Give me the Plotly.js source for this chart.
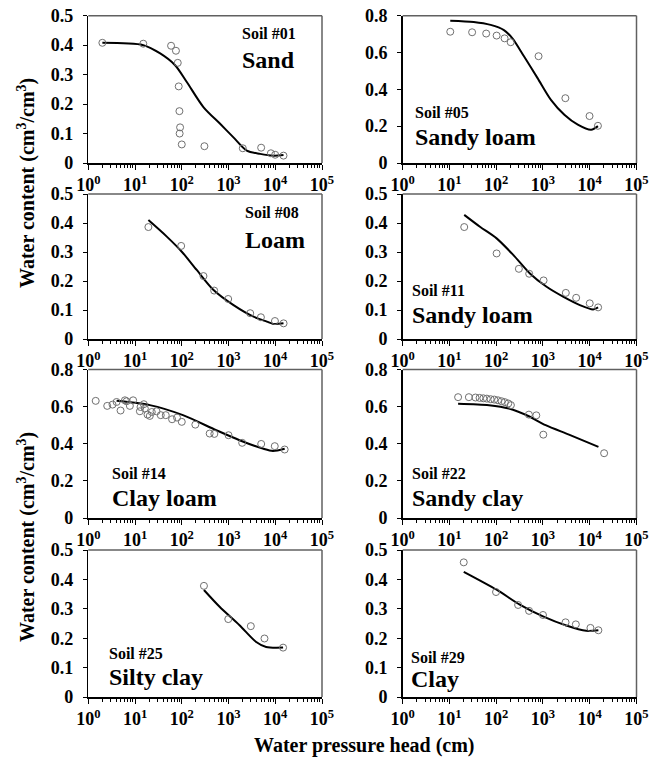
<!DOCTYPE html>
<html>
<head>
<meta charset="utf-8">
<script src="https://cdn.plot.ly/plotly-3.0.1.min.js"></script>
<style>html,body{margin:0;padding:0;background:#fff;}#chart{width:654px;height:762px;}</style>
</head>
<body>
<div id="chart"></div>
<script>
// ---------------- DATA ----------------
const soilIds  = ['Soil #01', 'Soil #05', 'Soil #08', 'Soil #11', 'Soil #14', 'Soil #22', 'Soil #25', 'Soil #29'];
const textures = ['Sand', 'Sandy loam', 'Loam', 'Sandy loam', 'Clay loam', 'Sandy clay', 'Silty clay', 'Clay'];
const yMax     = [0.5, 0.8, 0.5, 0.5, 0.8, 0.8, 0.5, 0.5];
const xTickVals  = [1, 10, 100, 1000, 10000, 100000];
const xTickText  = ['10<sup>0</sup>', '10<sup>1</sup>', '10<sup>2</sup>', '10<sup>3</sup>', '10<sup>4</sup>', '10<sup>5</sup>'];

// Soil #01 Sand
const obsH01 = [2, 15, 59, 75, 82, 86, 89, 92, 90, 100, 305, 2020, 4990, 8050, 9950, 15000];
const obsT01 = [0.408, 0.405, 0.398, 0.381, 0.340, 0.260, 0.176, 0.121, 0.100, 0.063, 0.057, 0.050, 0.052, 0.033, 0.028, 0.025];
const fitH01 = [2, 15, 34.5, 72, 128, 290, 661, 1275, 2460, 4750, 9200, 15000];
const fitT01 = [0.408, 0.400, 0.372, 0.332, 0.275, 0.190, 0.133, 0.087, 0.042, 0.031, 0.025, 0.027];
// Soil #05 Sandy loam
const obsH05 = [10.4, 30.5, 61, 102, 151, 204, 804, 3010, 9900, 14970];
const obsT05 = [0.713, 0.710, 0.703, 0.692, 0.677, 0.656, 0.580, 0.352, 0.255, 0.202];
const fitH05 = [10.4, 33, 76, 146, 222, 395, 766, 1480, 2865, 5550, 10700, 14970];
const fitT05 = [0.773, 0.766, 0.750, 0.722, 0.677, 0.578, 0.461, 0.343, 0.262, 0.208, 0.180, 0.200];
// Soil #08 Loam
const obsH08 = [19.3, 97, 291, 493, 984, 2910, 4930, 9850, 15070];
const obsT08 = [0.386, 0.321, 0.217, 0.167, 0.138, 0.089, 0.075, 0.062, 0.054];
const fitH08 = [19.3, 47.8, 100, 209, 478, 1280, 3435, 6600, 9100, 15000];
const fitT08 = [0.410, 0.353, 0.301, 0.238, 0.169, 0.117, 0.077, 0.060, 0.052, 0.054];
// Soil #11 Sandy loam
const obsH11 = [20.7, 102, 305, 507, 1030, 3080, 5120, 10000, 15100];
const obsT11 = [0.386, 0.295, 0.242, 0.225, 0.202, 0.159, 0.142, 0.123, 0.109];
const fitH11 = [20.7, 44.9, 102, 231, 525, 1194, 2690, 6150, 11830, 15100];
const fitT11 = [0.428, 0.387, 0.347, 0.290, 0.226, 0.180, 0.146, 0.117, 0.102, 0.109];
// Soil #14 Clay loam
const obsH14 = [1.44, 2.54, 3.3, 4.03, 4.9, 6.07, 6.6, 7.75, 9.1, 12.7, 13.1, 15.4, 16.2, 18.5, 20.7, 22.8, 28.8, 35.5, 45.4, 62, 79, 100, 195, 395, 497, 1000, 1960, 5000, 9750, 15900];
const obsT14 = [0.631, 0.604, 0.611, 0.625, 0.579, 0.634, 0.629, 0.604, 0.634, 0.575, 0.598, 0.613, 0.590, 0.557, 0.550, 0.571, 0.575, 0.554, 0.554, 0.532, 0.541, 0.518, 0.503, 0.455, 0.453, 0.446, 0.405, 0.399, 0.387, 0.369];
const fitH14 = [4.03, 20.7, 106, 547, 1720, 5410, 8900, 15900];
const fitT14 = [0.631, 0.608, 0.554, 0.473, 0.419, 0.374, 0.361, 0.373];
// Soil #22 Sandy clay
const obsH22 = [15.3, 26, 36, 44, 53, 63, 76, 91, 109, 130, 153, 181, 206, 500, 720, 1016, 20300];
const obsT22 = [0.651, 0.651, 0.649, 0.647, 0.645, 0.643, 0.640, 0.638, 0.634, 0.629, 0.624, 0.617, 0.608, 0.557, 0.553, 0.449, 0.349];
const fitH22 = [15.3, 70, 187, 500, 1140, 3600, 15350];
const fitT22 = [0.616, 0.608, 0.590, 0.548, 0.500, 0.449, 0.383];
// Soil #25 Silty clay
const obsH25 = [298, 988, 3000, 5880, 14700];
const obsT25 = [0.378, 0.265, 0.241, 0.199, 0.168];
const fitH25 = [298, 644, 1720, 3910, 6380, 14700];
const fitT25 = [0.364, 0.307, 0.244, 0.187, 0.170, 0.168];
// Soil #29 Clay
const obsH29 = [20.2, 99, 294, 504, 1000, 3040, 5040, 10350, 15300];
const obsT29 = [0.458, 0.357, 0.313, 0.293, 0.279, 0.254, 0.247, 0.235, 0.227];
const fitH29 = [20.2, 102, 319, 1000, 3150, 8380, 15300];
const fitT29 = [0.426, 0.365, 0.314, 0.274, 0.243, 0.225, 0.227];

const obsH = [obsH01, obsH05, obsH08, obsH11, obsH14, obsH22, obsH25, obsH29];
const obsT = [obsT01, obsT05, obsT08, obsT11, obsT14, obsT22, obsT25, obsT29];
const fitH = [fitH01, fitH05, fitH08, fitH11, fitH14, fitH22, fitH25, fitH29];
const fitT = [fitT01, fitT05, fitT08, fitT11, fitT14, fitT22, fitT25, fitT29];

// ---------------- LAYOUT ----------------
const W = 654, H = 762;
const px = v => v / W;
const py = v => 1 - v / H;
const colX = [[88.3, 322], [402.7, 636.5]];
const rowY = [[15.7, 163], [194, 339], [369.5, 518], [550, 697]];
// label positions: [left x, small-label centre y, big-label centre y]
const labelPos = [[240, 33, 60], [413, 112, 136.5], [243, 213, 240], [410, 290, 314.5],
                  [110, 473, 497.5], [410, 473, 497.5], [107, 653, 677], [409, 657, 679]];

const serif = 'Liberation Serif';
const tickFont = {family: serif, size: 18, color: '#000', weight: 'bold'};

const minorVals = [];
for (let e = 0; e < 5; e++) for (let d = 2; d <= 9; d++) minorVals.push(d * Math.pow(10, e));

const traces = [];
const layout = {
  width: W, height: H,
  margin: {l: 0, r: 0, t: 0, b: 0},
  paper_bgcolor: '#fff', plot_bgcolor: '#fff',
  font: {family: serif, color: '#000'},
  showlegend: false,
  annotations: [], shapes: []
};

for (let i = 0; i < 8; i++) {
  const n = i + 1;
  const xa = n === 1 ? 'x' : 'x' + n;
  const ya = n === 1 ? 'y' : 'y' + n;
  const col = i % 2, row = Math.floor(i / 2);
  traces.push({
    type: 'scatter', mode: 'lines', x: fitH[i], y: fitT[i], xaxis: xa, yaxis: ya,
    line: {color: '#000', width: 2, shape: 'spline', smoothing: 0.8}, hoverinfo: 'skip'
  });
  traces.push({
    type: 'scatter', mode: 'markers', x: obsH[i], y: obsT[i], xaxis: xa, yaxis: ya,
    marker: {symbol: 'circle-open', size: 7, color: '#707070', line: {width: 1, color: '#707070'}}
  });
  const xKey = n === 1 ? 'xaxis' : 'xaxis' + n;
  const yKey = n === 1 ? 'yaxis' : 'yaxis' + n;
  layout[xKey] = {
    type: 'log', range: [0, 5], domain: [px(colX[col][0]), px(colX[col][1])], anchor: ya,
    tickmode: 'array', tickvals: xTickVals, ticktext: xTickText,
    ticks: 'outside', ticklen: 5, tickwidth: 1, tickcolor: '#000',
    minor: {tickmode: 'array', tickvals: minorVals, ticks: 'outside', ticklen: 3, tickwidth: 1, tickcolor: '#000', showgrid: false},
    showline: true, linecolor: '#000', linewidth: 1.5, showgrid: false, zeroline: false,
    tickfont: tickFont, fixedrange: true
  };
  const step = yMax[i] > 0.6 ? 0.2 : 0.1;
  const yv = [];
  for (let k = 0; k <= Math.round(yMax[i] / step); k++) yv.push(+(k * step).toFixed(1));
  layout[yKey] = {
    range: [0, yMax[i]], domain: [py(rowY[row][1]), py(rowY[row][0])], anchor: xa,
    tickmode: 'array', tickvals: yv, ticktext: yv.map(v => v === 0 ? '0' : v.toFixed(1)),
    ticks: 'outside', ticklen: 4, tickwidth: 1, tickcolor: '#000', ticklabelstandoff: 6,
    showline: true, linecolor: '#000', linewidth: 1.5, showgrid: false, zeroline: false,
    tickfont: tickFont, fixedrange: true
  };
  layout.shapes.push({type: 'line', xref: xa + ' domain', yref: ya + ' domain', x0: 0, x1: 1, y0: 1, y1: 1, line: {color: '#606060', width: 1.5}});
  layout.shapes.push({type: 'line', xref: xa + ' domain', yref: ya + ' domain', x0: 1, x1: 1, y0: 0, y1: 1, line: {color: '#606060', width: 1.5}});
  const lp = labelPos[i];
  layout.annotations.push({
    xref: 'paper', yref: 'paper', x: px(lp[0]), y: py(lp[1]), xanchor: 'left', yanchor: 'middle',
    text: soilIds[i], showarrow: false, font: {family: serif, size: 16, color: '#000', weight: 'bold'}
  });
  layout.annotations.push({
    xref: 'paper', yref: 'paper', x: px(lp[0]), y: py(lp[2]), xanchor: 'left', yanchor: 'middle',
    text: textures[i], showarrow: false, font: {family: serif, size: 24, color: '#000', weight: 'bold'}
  });
}

const titleFont = {family: serif, size: 20, color: '#000', weight: 'bold'};
const yTitle = 'Water content (cm<sup>3</sup>/cm<sup>3</sup>)';
layout.annotations.push({xref: 'paper', yref: 'paper', x: px(26), y: py(183), textangle: -90, xanchor: 'center', yanchor: 'middle', text: yTitle, showarrow: false, font: titleFont});
layout.annotations.push({xref: 'paper', yref: 'paper', x: px(26), y: py(537), textangle: -90, xanchor: 'center', yanchor: 'middle', text: yTitle, showarrow: false, font: titleFont});
layout.annotations.push({xref: 'paper', yref: 'paper', x: px(364), y: py(745), xanchor: 'center', yanchor: 'middle', text: 'Water pressure head (cm)', showarrow: false, font: titleFont});

Plotly.newPlot('chart', traces, layout, {displayModeBar: false, staticPlot: true});
</script>
</body>
</html>
